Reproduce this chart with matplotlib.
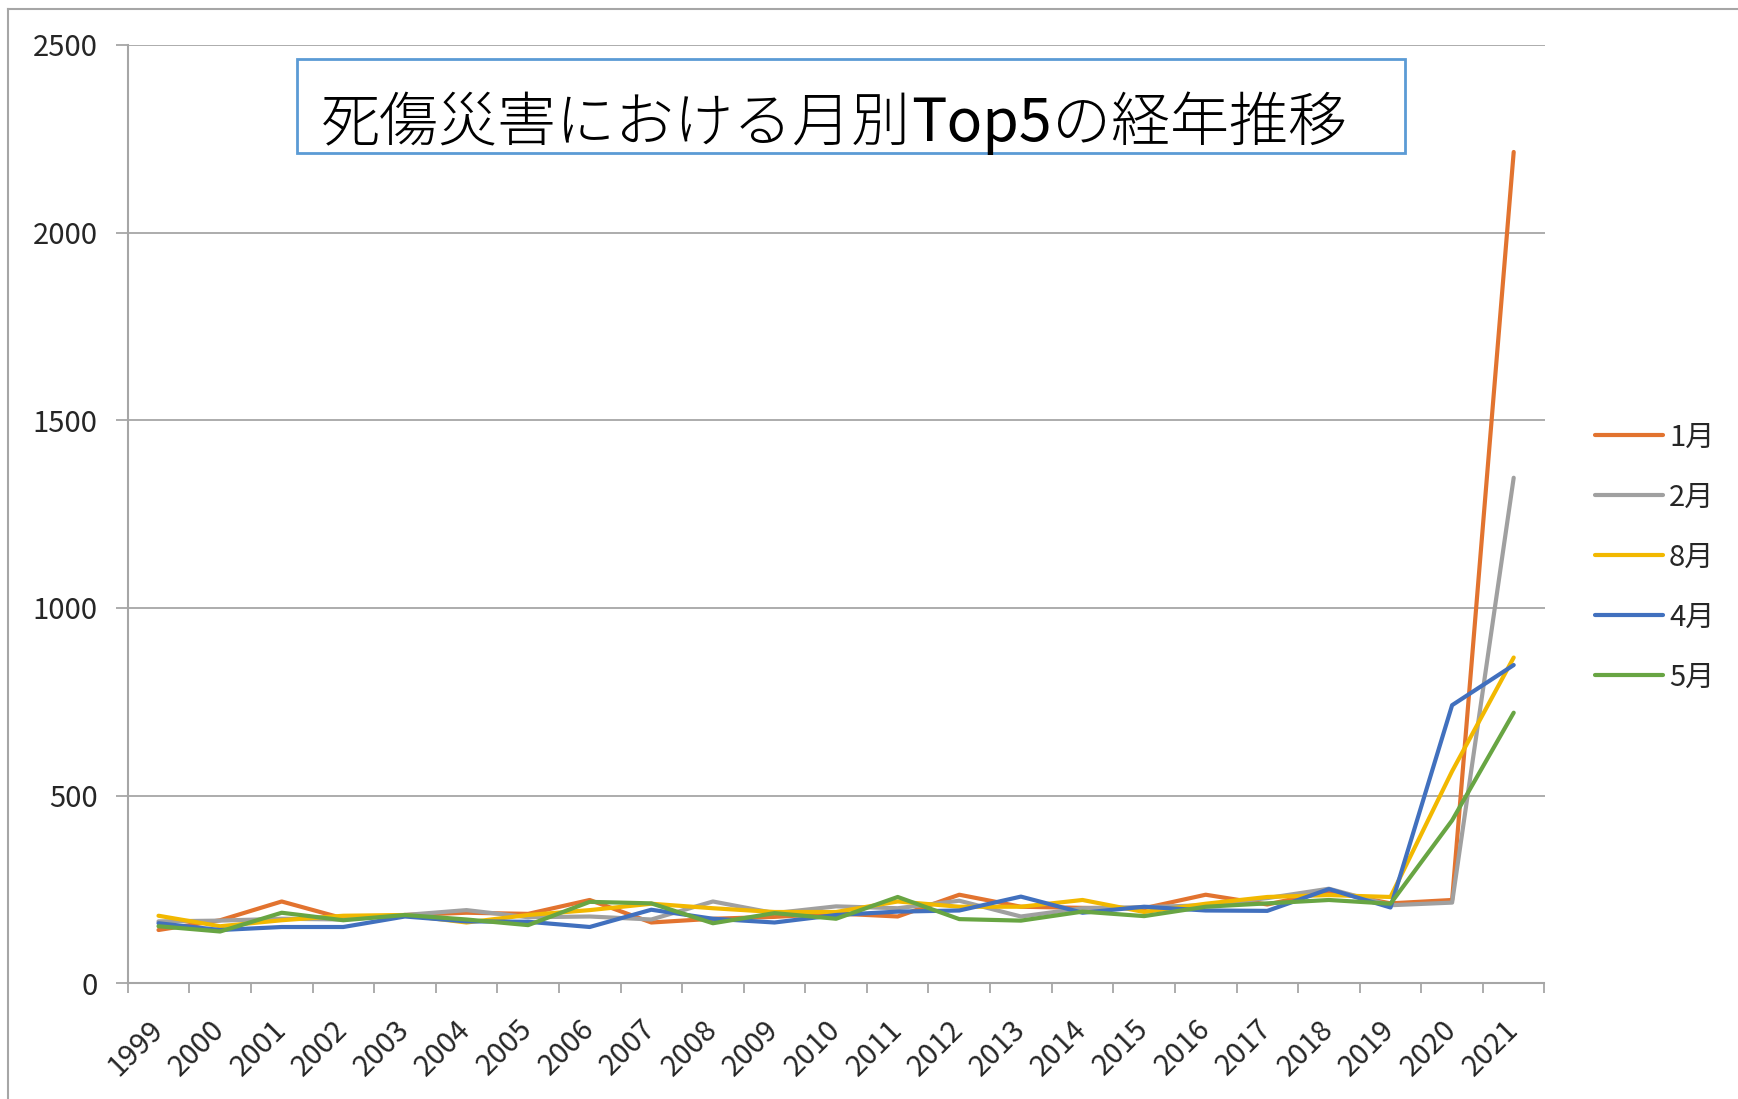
import numpy as np
import matplotlib
matplotlib.use("Agg")
import matplotlib.pyplot as plt
from matplotlib.lines import Line2D
from matplotlib.patches import Rectangle

plt.rcParams['font.family'] = ['Noto Sans CJK JP', 'DejaVu Sans']

# データ
years = [str(y) for y in range(1999, 2022)]
jan = [142, 168, 218, 173, 182, 188, 185, 222, 162, 172, 177, 186, 178, 236, 204, 201, 200, 236, 210, 245, 213, 222, 2215]
feb = [165, 167, 172, 170, 182, 195, 176, 178, 170, 218, 187, 205, 200, 220, 178, 200, 203, 208, 227, 252, 208, 215, 1347]
aug = [180, 152, 168, 180, 182, 162, 182, 195, 212, 200, 190, 190, 218, 204, 204, 222, 190, 212, 230, 235, 230, 565, 868]
apr = [160, 142, 150, 150, 178, 165, 164, 150, 196, 172, 162, 182, 191, 194, 231, 188, 204, 194, 193, 251, 202, 741, 848]
may = [152, 138, 188, 168, 182, 170, 155, 217, 213, 160, 187, 172, 230, 171, 167, 191, 179, 204, 213, 222, 212, 434, 721]

labels = ['1月', '2月', '8月', '4月', '5月']
series = [jan, feb, aug, apr, may]
colors = ['#E2732F', '#A0A0A0', '#F2B800', '#4170BE', '#68A543']

W, H = 1738, 1099
fig = plt.figure(figsize=(W / 100, H / 100), dpi=100)
ax = fig.add_axes([127.7 / W, 1 - 983.3 / H, (1544.5 - 127.7) / W, (983.3 - 45) / H])

x = np.arange(len(years))
for vals, c in zip(series, colors):
    ax.plot(x, vals, color=c, lw=3, solid_capstyle='round', solid_joinstyle='round', zorder=3)

grid_c = '#A6A6A6'
ax.set_xlim(-0.5, len(years) - 0.5)
ax.set_ylim(0, 2500)
ax.set_yticks(np.arange(0, 2501, 500))
ax.yaxis.grid(True, color=grid_c, lw=1.3)
ax.set_axisbelow(True)

for s in ['top', 'right']:
    ax.spines[s].set_visible(False)
for s in ['left', 'bottom']:
    ax.spines[s].set_color(grid_c)
    ax.spines[s].set_linewidth(1.5)

ax.tick_params(axis='y', length=8.6, width=1.3, color=grid_c, labelsize=21, pad=13, labelcolor='#262626')
ax.set_xticks(x)
ax.set_xticklabels(years, rotation=45, ha='right', va='center', rotation_mode='anchor')
ax.tick_params(axis='x', which='major', length=0, labelsize=21, pad=30, labelcolor='#262626')
ax.set_xticks(np.arange(-0.5, len(years)), minor=True)
ax.tick_params(axis='x', which='minor', length=7.5, width=1.3, color=grid_c)

# タイトル枠（Top5 だけ通常の太さ）
fig.add_artist(Rectangle((297 / W, 1 - 153 / H), (1405 - 297) / W, (153 - 59) / H,
                         transform=fig.transFigure, fill=False, ec='#5B9BD5', lw=2))
renderer = fig.canvas.get_renderer()
title_parts = [('死傷災害における月別', 'light'), ('Top5', 'normal'), ('の経年推移', 'light')]
tx = 321
for part, wt in title_parts:
    t = fig.text(tx / W, 1 - 141 / H, part, fontsize=42.5, fontweight=wt,
                 ha='left', va='baseline', color='#000000')
    tx += t.get_window_extent(renderer).width

# 凡例
for i, (lab, c) in enumerate(zip(labels, colors)):
    yy = 1 - (435 + 60 * i) / H
    fig.add_artist(Line2D([1595 / W, 1663 / W], [yy, yy], transform=fig.transFigure,
                          color=c, lw=3, solid_capstyle='round'))
    fig.text(1669 / W, yy - 11 / H, lab, fontsize=21, ha='left', va='baseline', color='#262626')

# 外枠
fig.add_artist(Line2D([8 / W, 1], [1 - 9 / H, 1 - 9 / H], transform=fig.transFigure, color='#A6A6A6', lw=1.5))
fig.add_artist(Line2D([8 / W, 8 / W], [0, 1 - 9 / H], transform=fig.transFigure, color='#A6A6A6', lw=1.5))

fig.savefig('out.png', dpi=100)
